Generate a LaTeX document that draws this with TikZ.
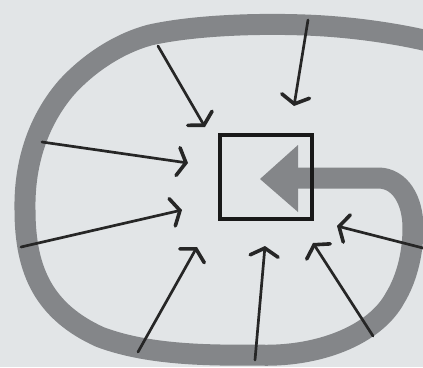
\documentclass[tikz,border=0pt]{standalone}
\usetikzlibrary{arrows.meta}
\definecolor{paper}{RGB}{226,229,231}
\definecolor{dots}{RGB}{132,134,137}
\tikzset{
  band/.style={draw=dots, line width=21pt, line join=round},
  bandtip/.style={fill=dots},
  inarrow/.style={draw=black!85, line width=2.7pt, line cap=round,
    -{Straight Barb[length=8pt,width=28pt,line width=3.6pt,line cap=round]}},
  core/.style={draw=black!90, line width=3.2pt, minimum width=92pt,
    minimum height=84pt, inner sep=0pt}
}
\begin{document}
\begin{tikzpicture}[x=1pt,y=-1pt]
\fill[paper] (0,0) rectangle (423,367);
\useasboundingbox (0,0) rectangle (423,367);
\begin{scope}
\clip (0,0) rectangle (423,367);
\draw[band] (298,178) -- (378,178)
  .. controls (400,178) and (413,200) .. (413,228)
  .. controls (413,255) and (406,280) .. (395,298)
  .. controls (375,335) and (318,358) .. (255,355)
  .. controls (190,356) and (140,352) .. (100,337)
  .. controls (45,312) and (25,272) .. (25,210)
  .. controls (24,160) and (40,118) .. (67,87)
  .. controls (90,62) and (120,43) .. (150,35)
  .. controls (190,26) and (250,23) .. (305,25)
  .. controls (360,27) and (410,36) .. (440,44);
\end{scope}
\fill[bandtip] (260,179) -- (298,145) -- (298,212) -- cycle;
\node[core] (box) at (266,177) {};
% arrow tails on the band and tips near the box
\coordinate (t1) at (158,46);  \coordinate (h1) at (205,127);
\coordinate (t2) at (308,20);  \coordinate (h2) at (294,106);
\coordinate (t3) at (42,142);  \coordinate (h3) at (188,163);
\coordinate (t4) at (21,247);  \coordinate (h4) at (182,210);
\coordinate (t5) at (138,352); \coordinate (h5) at (197,247);
\coordinate (t6) at (255,360); \coordinate (h6) at (265,246);
\coordinate (t7) at (373,336); \coordinate (h7) at (313,243);
\coordinate (t8) at (423,248); \coordinate (h8) at (337,226);
\foreach \i in {1,...,8} { \draw[inarrow] (t\i) -- (h\i); }
\end{tikzpicture}
\end{document}
